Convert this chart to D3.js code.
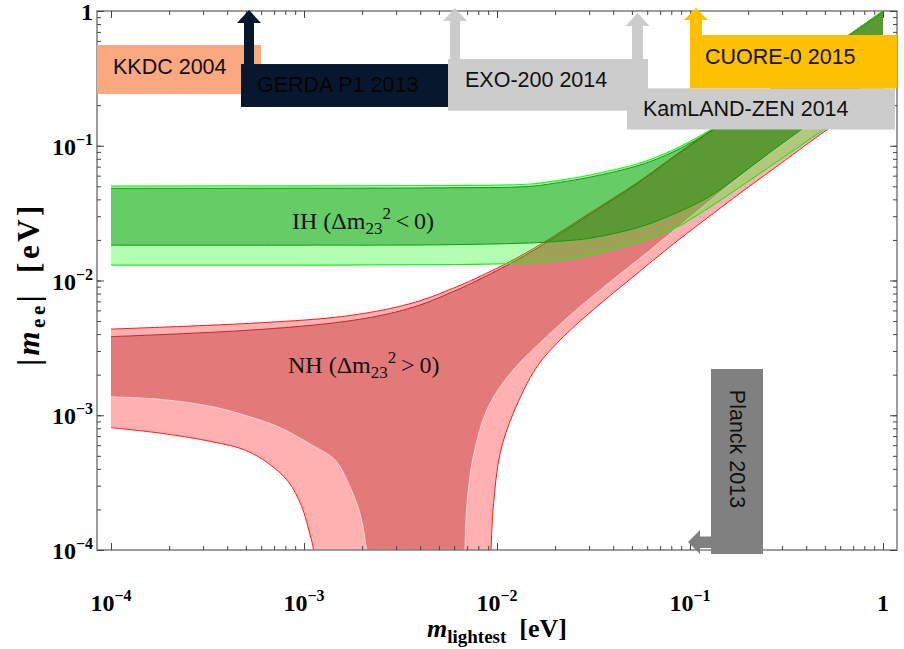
<!DOCTYPE html>
<html>
<head>
<meta charset="utf-8">
<script src="https://cdnjs.cloudflare.com/ajax/libs/d3/7.8.5/d3.min.js"></script>
<style>
body { margin: 0; background: #fff; }
svg { display: block; }
.serif { font-family: "Liberation Serif", "Times New Roman", serif; }
.sans { font-family: "Liberation Sans", Arial, sans-serif; }
</style>
</head>
<body>
<div id="chart"></div>
<script>
// |m_ee| vs m_lightest (eV)

// inverted hierarchy
var ihM        = [1e-4, 1e-3, 0.005, 0.0148, 0.0215, 0.0303, 0.0551, 0.0817, 0.1225, 0.18, 0.27, 0.40, 0.60, 1.0];
var ihOuterMax = [0.0502, 0.0504, 0.0507, 0.052, 0.0556, 0.0607, 0.0745, 0.093, 0.1265, 0.178, 0.259, 0.384, 0.589, 1.0];
var ihInnerMax = [0.0483, 0.0484, 0.0487, 0.050, 0.0537, 0.0585, 0.072, 0.090, 0.123, 0.174, 0.255, 0.38, 0.585, 0.99];
var ihInnerMin = [0.0183, 0.0183, 0.0184, 0.019, 0.0196, 0.0206, 0.025, 0.031, 0.041, 0.060, 0.093, 0.140, 0.215, 0.36];
var ihOuterMin = [0.0130, 0.0130, 0.0131, 0.0135, 0.0142, 0.0155, 0.0195, 0.024, 0.034, 0.049, 0.073, 0.107, 0.16, 0.265];

// normal hierarchy, upper edges
var nhMaxM      = [1e-4, 5.25e-4, 1.45e-3, 2.5e-3, 3.5e-3, 4.5e-3, 5.5e-3, 7e-3, 0.0112, 0.0173, 0.0303, 0.0531, 0.0817, 0.1225, 0.2, 0.4, 0.7, 1.0];
var nhOuterMax  = [0.00436, 0.00481, 0.00533, 0.0060, 0.0067, 0.0075, 0.0084, 0.0097, 0.0134, 0.019, 0.0317, 0.053, 0.0826, 0.124, 0.201, 0.4, 0.7, 1.0];
var nhInnerMax  = [0.00383, 0.00428, 0.00486, 0.0055, 0.0062, 0.0070, 0.0079, 0.0092, 0.0129, 0.0184, 0.0309, 0.052, 0.0815, 0.1225, 0.199, 0.397, 0.697, 0.996];

// normal hierarchy, lower edges (two branches each, they dive below 1e-4)
var nhInnerMinLeftM  = [1e-4, 1.83e-4, 3.33e-4, 4.94e-4, 7.36e-4, 1.1e-3, 1.45e-3, 1.73e-3, 1.95e-3, 2.11e-3, 2.18e-3];
var nhInnerMinLeft   = [0.00137, 0.00131, 0.00116, 0.0010, 0.00082, 0.00060, 0.000465, 0.000295, 0.000187, 0.0001, 0.00006];
var nhInnerMinRightM = [6.75e-3, 6.82e-3, 6.97e-3, 7.53e-3, 9.02e-3, 0.01213, 0.01807, 0.0269, 0.0417, 0.0621, 0.1, 0.2, 0.4, 0.7, 1.0];
var nhInnerMinRight  = [0.00006, 0.0001, 0.00021, 0.000492, 0.00116, 0.00217, 0.00383, 0.00639, 0.01067, 0.0168, 0.0295, 0.066, 0.138, 0.243, 0.347];
var nhOuterMinLeftM  = [1e-4, 1.83e-4, 3.33e-4, 4.94e-4, 6.53e-4, 8.3e-4, 9.73e-4, 1.07e-3, 1.12e-3, 1.15e-3];
var nhOuterMinLeft   = [0.000809, 0.000734, 0.000637, 0.000552, 0.00044, 0.000321, 0.00021, 0.000133, 0.0001, 0.00006];
var nhOuterMinRightM = [9.2e-3, 9.31e-3, 9.57e-3, 0.01038, 0.01213, 0.0161, 0.0221, 0.0329, 0.0489, 0.0787, 0.1815, 0.269, 0.511, 0.75, 1.0];
var nhOuterMinRight  = [0.00006, 0.0001, 0.00021, 0.000522, 0.00103, 0.00229, 0.00383, 0.00639, 0.0102, 0.0178, 0.0444, 0.067, 0.131, 0.19, 0.255];

// experimental ranges on |m_ee|
var expNames = ["KKDC 2004", "GERDA P1 2013", "EXO-200 2014", "KamLAND-ZEN 2014", "CUORE-0 2015"];
var expLow   = [0.242, 0.194, 0.182, 0.132, 0.267];
var expHigh  = [0.559, 0.404, 0.44, 0.267, 0.664];

// tick labels
var tickValues = [1e-4, 1e-3, 1e-2, 1e-1, 1];
var tickBase   = ["10", "10", "10", "10", "1"];
var tickExp    = ["\u22124", "\u22123", "\u22122", "\u22121", ""];

(function () {
var width = 904, height = 649;
var frame = {left: 97, right: 897, top: 11, bottom: 550};

var x = d3.scaleLog().domain([1e-4, 1]).range([111, 883]);
var y = d3.scaleLog().domain([1e-4, 1]).range([frame.bottom, frame.top]);

var svg = d3.select("#chart").append("svg")
    .attr("width", width)
    .attr("height", height);

svg.append("clipPath").attr("id", "clip")
  .append("rect")
    .attr("x", frame.left).attr("y", frame.top)
    .attr("width", frame.right - frame.left)
    .attr("height", frame.bottom - frame.top);

var line = d3.line()
    .x(function(d) { return x(d[0]); })
    .y(function(d) { return y(d[1]); })
    .curve(d3.curveCatmullRom.alpha(0.5));

function pts(ms, vs) { return ms.map(function(m, i) { return [m, vs[i]]; }); }

function band(top, bottoms) {
  var p = line(top);
  bottoms.forEach(function(b) { p += line(b.slice().reverse()).replace(/^M/, "L"); });
  return p + "Z";
}

var plot = svg.append("g").attr("clip-path", "url(#clip)");

var nhOuterTop = pts(nhMaxM, nhOuterMax),
    nhInnerTop = pts(nhMaxM, nhInnerMax),
    nhInL = pts(nhInnerMinLeftM, nhInnerMinLeft),
    nhInR = pts(nhInnerMinRightM, nhInnerMinRight),
    nhOutL = pts(nhOuterMinLeftM, nhOuterMinLeft),
    nhOutR = pts(nhOuterMinRightM, nhOuterMinRight);

plot.append("path").attr("d", band(nhOuterTop, [nhOutR, nhOutL])).attr("fill", "#ffb0b0");
plot.append("path").attr("d", band(nhInnerTop, [nhInR, nhInL])).attr("fill", "#e27a7a");

[nhInL, nhInR].forEach(function(c) {
  plot.append("path").attr("d", line(c)).attr("fill", "none")
      .attr("stroke", "#ffe2e2").attr("stroke-width", 0.8);
});
[nhOutL, nhOutR, nhOuterTop].forEach(function(c) {
  plot.append("path").attr("d", line(c)).attr("fill", "none")
      .attr("stroke", "#ff1a1a").attr("stroke-width", 1);
});
plot.append("path").attr("d", line(nhInnerTop)).attr("fill", "none")
    .attr("stroke", "#c02828").attr("stroke-width", 1);

var ihOT = pts(ihM, ihOuterMax), ihIT = pts(ihM, ihInnerMax),
    ihIB = pts(ihM, ihInnerMin), ihOB = pts(ihM, ihOuterMin);

plot.append("path").attr("d", band(ihOT, [ihOB]))
    .attr("fill", "rgb(0,255,0)").attr("fill-opacity", 0.3);
plot.append("path").attr("d", band(ihIT, [ihIB]))
    .attr("fill", "rgb(8,142,8)").attr("fill-opacity", 0.45);

[ihOT, ihOB].forEach(function(c) {
  plot.append("path").attr("d", line(c)).attr("fill", "none")
      .attr("stroke", "#22ee22").attr("stroke-width", 1.2);
});
[ihIT, ihIB].forEach(function(c) {
  plot.append("path").attr("d", line(c)).attr("fill", "none")
      .attr("stroke", "#109a10").attr("stroke-width", 1);
});

// band labels
var ih = svg.append("text").attr("class", "serif")
    .attr("x", 292).attr("y", 229).attr("font-size", 24).attr("fill", "#111");
ih.append("tspan").text("IH (\u0394m");
ih.append("tspan").attr("font-size", 17).attr("dy", 5).text("23");
ih.append("tspan").attr("font-size", 17).attr("dy", -15).text("2");
ih.append("tspan").attr("dy", 10).text("\u2009<\u20090)");

var nh = svg.append("text").attr("class", "serif")
    .attr("x", 288).attr("y", 373).attr("font-size", 24).attr("fill", "#111");
nh.append("tspan").text("NH (\u0394m");
nh.append("tspan").attr("font-size", 17).attr("dy", 5).text("23");
nh.append("tspan").attr("font-size", 17).attr("dy", -15).text("2");
nh.append("tspan").attr("dy", 10).text("\u2009>\u20090)");

// frame and ticks
svg.append("rect")
    .attr("x", frame.left).attr("y", frame.top)
    .attr("width", frame.right - frame.left)
    .attr("height", frame.bottom - frame.top)
    .attr("fill", "none").attr("stroke", "#858585").attr("stroke-width", 1.6);

function ticks(axis, tx, ty, vals, size) {
  svg.append("g")
      .attr("transform", "translate(" + tx + "," + ty + ")")
      .call(axis.tickValues(vals).tickSize(size).tickFormat(""))
      .call(function(g) { g.select(".domain").remove(); g.selectAll("line").attr("stroke", "#444"); });
}
var minorX = x.ticks(), minorY = y.ticks();
ticks(d3.axisBottom(x), 0, frame.bottom, minorX, -4);
ticks(d3.axisBottom(x), 0, frame.bottom, tickValues, -7);
ticks(d3.axisTop(x), 0, frame.top, minorX, -4);
ticks(d3.axisTop(x), 0, frame.top, tickValues, -7);
ticks(d3.axisLeft(y), frame.left, 0, minorY, -4);
ticks(d3.axisLeft(y), frame.left, 0, tickValues, -7);
ticks(d3.axisRight(y), frame.right, 0, minorY, -4);
ticks(d3.axisRight(y), frame.right, 0, tickValues, -7);

var xl = svg.append("g").attr("class", "serif").attr("font-weight", "bold").attr("fill", "#000")
  .selectAll("text").data(tickValues).join("text")
    .attr("x", function(d) { return x(d); })
    .attr("y", 611)
    .attr("text-anchor", "middle")
    .attr("font-size", 24);
xl.append("tspan").text(function(d, i) { return tickBase[i]; });
xl.append("tspan").attr("font-size", 16).attr("dy", -10).text(function(d, i) { return tickExp[i]; });

var yl = svg.append("g").attr("class", "serif").attr("font-weight", "bold").attr("fill", "#000")
  .selectAll("text").data(tickValues).join("text")
    .attr("x", 93)
    .attr("y", function(d) { return y(d) + 9; })
    .attr("text-anchor", "end")
    .attr("font-size", 24);
yl.append("tspan").text(function(d, i) { return tickBase[i]; });
yl.append("tspan").attr("font-size", 16).attr("dy", -10).text(function(d, i) { return tickExp[i]; });

// axis titles
var xt = svg.append("text").attr("class", "serif").attr("font-weight", "bold")
    .attr("x", 497).attr("y", 637).attr("text-anchor", "middle").attr("font-size", 26);
xt.append("tspan").attr("font-style", "italic").text("m");
xt.append("tspan").attr("font-size", 19).attr("dy", 6).text("lightest");
xt.append("tspan").attr("dy", -6).text("\u2002[eV]");

var yt = svg.append("text").attr("class", "serif").attr("font-weight", "bold")
    .attr("transform", "translate(39,284) rotate(-90)")
    .attr("text-anchor", "middle").attr("font-size", 31)
    .attr("letter-spacing", 3.5);
yt.append("tspan").text("|");
yt.append("tspan").attr("font-style", "italic").text("m");
yt.append("tspan").attr("font-size", 21).attr("dy", 6).text("ee");
yt.append("tspan").attr("dy", -6).text("|\u2002[eV]");

// experiment boxes (horizontal extent and label spots are layout only)
var boxX0 = [97, 241, 448, 627, 690],
    boxX1 = [261, 448, 648, 895, 897],
    boxColor = ["#f9a880", "#07182e", "#cccccc", "#cccccc", "#ffc000"],
    textX = [113, 257, 465, 643, 705],
    textY = [74, 92, 87, 116, 63.5],
    arrow = [null, {cx: 249, tip: 10, base: 23, hw: 12, sw: 5},
             {cx: 455, tip: 8, base: 21, hw: 12, sw: 5},
             {cx: 637.5, tip: 13, base: 26, hw: 12, sw: 5.5},
             {cx: 696, tip: 8, base: 20, hw: 12, sw: 6}];

expNames.forEach(function(name, i) {
  var top = y(expHigh[i]), bot = y(expLow[i]);
  svg.append("rect")
      .attr("x", boxX0[i]).attr("y", top)
      .attr("width", boxX1[i] - boxX0[i]).attr("height", bot - top)
      .attr("fill", boxColor[i]);
  var a = arrow[i];
  if (a) {
    svg.append("rect").attr("x", a.cx - a.sw).attr("y", a.base - 0.5)
        .attr("width", 2 * a.sw).attr("height", top - a.base + 1).attr("fill", boxColor[i]);
    svg.append("path")
        .attr("d", "M" + (a.cx - a.hw) + "," + a.base + "L" + a.cx + "," + a.tip + "L" + (a.cx + a.hw) + "," + a.base + "Z")
        .attr("fill", boxColor[i]);
  }
});
expNames.forEach(function(name, i) {
  svg.append("text").attr("class", "sans")
      .attr("x", textX[i]).attr("y", textY[i])
      .attr("font-size", 21.5).attr("fill", i === 1 ? "#050505" : "#111")
      .text(name);
});

// Planck 2013
svg.append("rect").attr("x", 711).attr("y", 369).attr("width", 52).attr("height", 185).attr("fill", "#808080");
svg.append("path")
    .attr("d", "M711,536.5L700,536.5L700,530L688,542L700,554L700,548L711,548Z")
    .attr("fill", "#808080");
svg.append("text").attr("class", "sans")
    .attr("transform", "translate(737,449) rotate(90)")
    .attr("text-anchor", "middle").attr("dominant-baseline", "central")
    .attr("font-size", 21.5).attr("fill", "#111")
    .text("Planck 2013");
})();
</script>
</body>
</html>
